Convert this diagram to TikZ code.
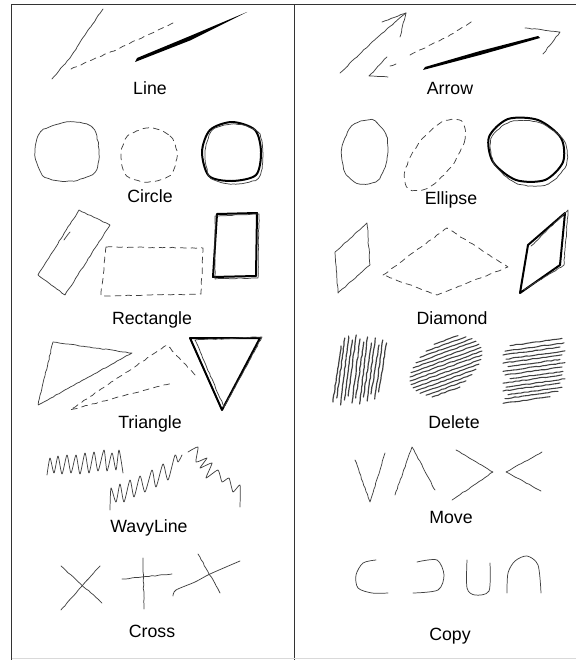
\documentclass[tikz,border=0pt]{standalone}
\usepackage{fontspec}
\setmainfont{Liberation Sans}
\usetikzlibrary{decorations.pathmorphing}

\begin{document}
\begin{tikzpicture}[x=0.75pt, y=-0.75pt,
  pen/.style={draw=black!75, line width=0.55pt, line join=round, line cap=round},
  sk/.style={pen, decorate, decoration={random steps, segment length=2.5pt, amplitude=0.3pt}},
  dsk/.style={sk, dash pattern=on 4.5pt off 3.5pt},
  tsk/.style={draw=black, line width=1.5pt, line join=round},
  lbl/.style={font=\fontsize{13.3}{16}\selectfont, inner sep=0pt, anchor=base},
  rule/.style={draw=black!80, line width=0.6pt}]
\pgfmathsetseed{7}
\useasboundingbox (0,0) rectangle (576,660);
% frame
\draw[rule] (11.5,660) -- (11.5,4.5) -- (576,4.5);
\draw[rule] (294,4.5) -- (294,660);
\draw[draw=black!15, line width=0.6pt] (11.5,658.5) -- (576,658.5);

% Line
\draw[sk] (52,79) -- (70,58) -- (85,35) -- (103,9);
\draw[dsk] (71,69) -- (120,48) -- (173,23);
\fill[black] (135,62) -- (190,40.5) -- (247,12) -- (190,36) -- (137,58) -- cycle;
\node[lbl] (lblLine) at (150,94) {Line};

% Arrow
\draw[sk] (340,73) -- (372,42) -- (406,13);
\draw[sk] (382,22) -- (406,13) -- (400,37);
\draw[dsk] (410,55) -- (445,38) -- (475,20);
\draw[sk] (387,57) -- (369,76) -- (388,77);
\draw[sk] (390,66) -- (396,64);
\fill[black] (423,70) -- (480,55) -- (540,38) -- (538,36) -- (480,51) -- (425,67) -- cycle;
\draw[sk] (525,28) -- (560,32) -- (543,54);
\node[lbl] (lblArrow) at (450,94) {Arrow};

% Circle
\draw[sk] plot[smooth cycle] coordinates {(67,122) (92,127) (99,150) (95,172) (72,181) (45,177) (35,155) (41,132)};
\draw[dsk] plot[smooth cycle] coordinates {(150,128) (170,136) (177,155) (170,175) (148,182) (127,176) (121,155) (128,136)};
\draw[tsk] plot[smooth cycle] coordinates {(232,122) (255,130) (261,152) (256,175) (232,181) (209,176) (202,152) (210,130)};
\draw[sk] plot[smooth cycle] coordinates {(234,124) (258,132) (263,155) (258,178) (234,184) (211,178) (205,154) (212,131)};
\node[lbl] (lblCircle) at (150,202) {Circle};

% Ellipse
\draw[sk] plot[smooth cycle] coordinates {(372,120) (386,135) (387,160) (378,180) (360,184) (345,172) (342,148) (352,126)};
\draw[dsk] plot[smooth cycle] coordinates {(461,121) (465,139) (451,167) (428,188) (409,189) (405,171) (419,143) (442,122)};
\draw[tsk] plot[smooth cycle] coordinates {(563,162) (545,180) (516,180) (493,162) (489,137) (508,119) (538,120) (561,138)};
\draw[sk] plot[smooth cycle] coordinates {(566,165) (548,184) (518,184) (495,165) (491,139) (510,122) (540,123) (564,141)};
\node[lbl] (lblEllipse) at (451,204) {Ellipse};

% Rectangle
\draw[sk] (79,210) -- (110,225) -- (65,295) -- (38,275) -- cycle;
\draw[sk] (64,240) -- (70,232);
\draw[dsk] (106,247) -- (203,248) -- (201,294) -- (101,296) -- cycle;
\draw[tsk] (217,214) -- (257,213) -- (256,276) -- (213,277) -- cycle;
\draw[sk] (215,216) -- (259,214) -- (258,278) -- (215,279) -- cycle;
\node[lbl] (lblRectangle) at (152,324) {Rectangle};

% Diamond
\draw[sk] (367,223) -- (370,265) -- (338,293) -- (335,252) -- cycle;
\draw[dsk] (383,275) -- (447,228) -- (508,267) -- (437,295) -- cycle;
\draw[tsk] (528,245) -- (565,213) -- (560,265) -- (520,293) -- cycle;
\draw[sk] (531,246) -- (568,210) -- (564,265) -- (524,290);
\node[lbl] (lblDiamond) at (452,324) {Diamond};

% Triangle
\draw[sk] (53,342) -- (132,353) -- (38,405) -- cycle;
\draw[dsk] (195,375) -- (167,345) -- (70,410) -- (172,383);
\draw[tsk] (190,338) -- (260,338) -- (222,410) -- cycle;
\draw[sk] (195,340) -- (262,337) -- (224,407) -- cycle;
\node[lbl] (lblTriangle) at (150,428) {Triangle};

% Delete
\foreach \i/\a/\b in {0/402/346, 1/398/338, 2/405/336, 3/400/340, 4/396/335, 5/403/339, 6/398/342, 7/404/337, 8/397/343, 9/401/338, 10/394/345, 11/399/340, 12/392/343}
  \draw[sk, line width=0.9pt] ({333+3.8*\i},\a) -- ({341+3.8*\i},\b);
\foreach \y/\l in {340/12, 344/20, 348/26, 352/30, 356/33, 360/35, 364/36, 368/36, 372/35, 376/33, 380/30, 384/26, 388/20, 392/14}
  \draw[sk, line width=0.8pt] ({446-\l},{\y+0.36*\l}) -- ({446+\l},{\y-0.36*\l});
\foreach \y/\a/\b in {342/510/562, 347/505/564, 351/503/560, 355/506/565, 359/503/562, 363/508/560, 367/503/565, 371/505/562, 375/510/563, 379/503/562, 383/506/565, 387/503/560, 391/508/562, 395/505/558, 400/503/550}
  \draw[sk, line width=0.8pt] (\a,{\y+0.07*(\b-\a)}) -- (\b,{\y-0.07*(\b-\a)});
\node[lbl] (lblDelete) at (454,428) {Delete};

% WavyLine
\draw[pen] plot[smooth, tension=0.4] coordinates {(47,475) (50,458) (54,473) (58,456) (62,474) (67,455) (71,473) (76,455) (80,474) (85,453) (89,473) (94,452) (98,471) (104,450) (107,471) (112,453) (116,470) (119,450) (123,473)};
\draw[pen] plot[smooth, tension=0.4] coordinates {(110,510) (111,488) (116,502) (120,484) (124,502) (130,480) (134,497) (140,476) (145,492) (152,470) (156,487) (163,464) (168,480) (175,455) (178,462) (182,455)};
\draw[pen] plot[smooth, tension=0.3] coordinates {(188,452) (198,447) (196,462) (207,458) (200,468) (212,463) (206,478) (218,470) (222,482) (229,478) (233,492) (240,485) (240,507)};
\node[lbl] (lblWavyLine) at (149,532) {WavyLine};

% Move
\draw[sk] (355,460) -- (370,502) -- (385,453);
\draw[sk] (395,495) -- (412,447) -- (435,490);
\draw[sk] (456,450) -- (493,472) -- (452,500);
\draw[sk] (542,452) -- (506,472) -- (541,491);
\node[lbl] (lblMove) at (451,523) {Move};

% Cross
\draw[sk] (61,566) -- (102,603);
\draw[sk] (100,566) -- (61,610);
\draw[sk] (143,558) -- (144,609);
\draw[sk] (122,579) -- (172,574);
\draw[sk] (198,554) -- (220,593);
\draw[pen] plot[smooth] coordinates {(173,596) (176,590) (195,582) (210,574) (240,561)};
\node[lbl] (lblCross) at (152,637) {Cross};

% Copy
\draw[pen] plot[smooth] coordinates {(376,560) (363,563) (356,575) (358,588) (372,593) (388,593)};
\draw[pen] plot[smooth] coordinates {(417,562) (437,560) (444,575) (438,590) (413,593)};
\draw[pen] plot[smooth] coordinates {(467,560) (467,588) (475,595) (489,591) (490,563)};
\draw[pen] plot[smooth] coordinates {(507,593) (508,573) (515,561) (527,556) (538,565) (541,593)};
\node[lbl] (lblCopy) at (450,640) {Copy};
\end{tikzpicture}
\end{document}
